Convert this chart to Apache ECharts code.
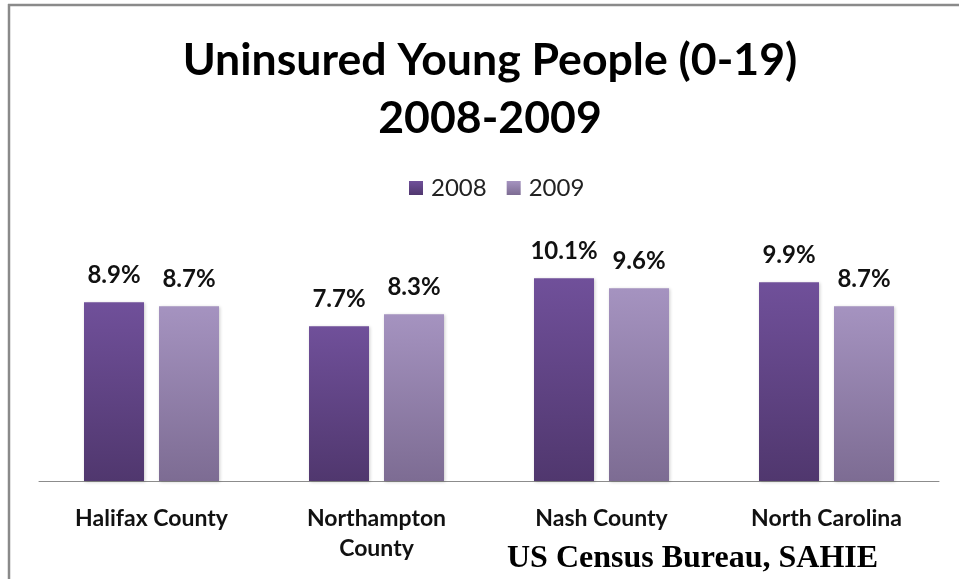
<!DOCTYPE html>
<html><head><meta charset="utf-8">
<script src="https://cdn.jsdelivr.net/npm/echarts@6/dist/echarts.min.js"></script>
<style>html,body{margin:0;padding:0;background:#fff}#c{width:959px;height:579px}</style>
</head><body><div id="c"></div>
<script>
const categories = ['Halifax County', 'Northampton\nCounty', 'Nash County', 'North Carolina'];
const seriesNames = ['2008', '2009'];
const values2008 = [8.9, 7.7, 10.1, 9.9];
const values2009 = [8.7, 8.3, 9.6, 8.7];
const titleLines = ['Uninsured Young People (0-19)', '2008-2009'];
const sourceText = 'US Census Bureau, SAHIE';

function grad(top, bottom) {
  return new echarts.graphic.LinearGradient(0, 0, 0, 1, [
    {offset: 0, color: top}, {offset: 1, color: bottom}
  ]);
}
const chart = echarts.init(document.getElementById('c'), null, {renderer: 'canvas'});
const labelStyle = {
  show: true, position: 'top', distance: 15,
  formatter: p => p.value.toFixed(1) + '%',
  fontFamily: 'Lato', fontWeight: 'bold', fontSize: 24, color: '#111'
};
chart.setOption({
  animation: false,
  title: {
    text: titleLines.join('\n'), left: 485, top: 27, textAlign: 'center',
    textStyle: {fontFamily: 'Lato', fontWeight: 'bold', fontSize: 44.6, lineHeight: 58, color: '#000'}
  },
  legend: {
    data: seriesNames, top: 171, left: 404, itemWidth: 14, itemHeight: 14, itemGap: 20,
    icon: 'rect',
    textStyle: {fontFamily: 'Lato', fontSize: 24, color: '#222', padding: [0, 0, 0, 3]}
  },
  grid: {left: 39, top: 240, width: 900, height: 241, containLabel: false},
  xAxis: {
    type: 'category', data: categories,
    axisLine: {show: true, lineStyle: {color: '#8c8c8c', width: 1}},
    axisTick: {show: false},
    axisLabel: {fontFamily: 'Lato', fontWeight: 'bold', fontSize: 23, color: '#111', lineHeight: 30, margin: 23}
  },
  yAxis: {type: 'value', min: 0, max: 12, show: false, splitLine: {show: false}},
  series: [
    {name: seriesNames[0], type: 'bar', data: values2008, barWidth: 60, barGap: '25%',
     itemStyle: {color: grad('#70509a', '#50376e'), shadowColor: 'rgba(0,0,0,0.2)', shadowBlur: 3, shadowOffsetX: 1, shadowOffsetY: 1},
     label: labelStyle},
    {name: seriesNames[1], type: 'bar', data: values2009, barWidth: 60,
     itemStyle: {color: grad('#a593c0', '#7d6c93'), shadowColor: 'rgba(0,0,0,0.2)', shadowBlur: 3, shadowOffsetX: 1, shadowOffsetY: 1},
     label: labelStyle}
  ],
  graphic: [
    {type: 'line', shape: {x1: 8, y1: 5, x2: 959, y2: 5}, style: {stroke: '#8a8a8a', lineWidth: 2.5}},
    {type: 'line', shape: {x1: 9, y1: 4, x2: 9, y2: 579}, style: {stroke: '#8a8a8a', lineWidth: 2.5}},
    {type: 'text', left: 507, top: 543, style: {text: sourceText, font: 'bold 32px "Liberation Serif"', fill: '#000'}}
  ]
});
</script></body></html>
